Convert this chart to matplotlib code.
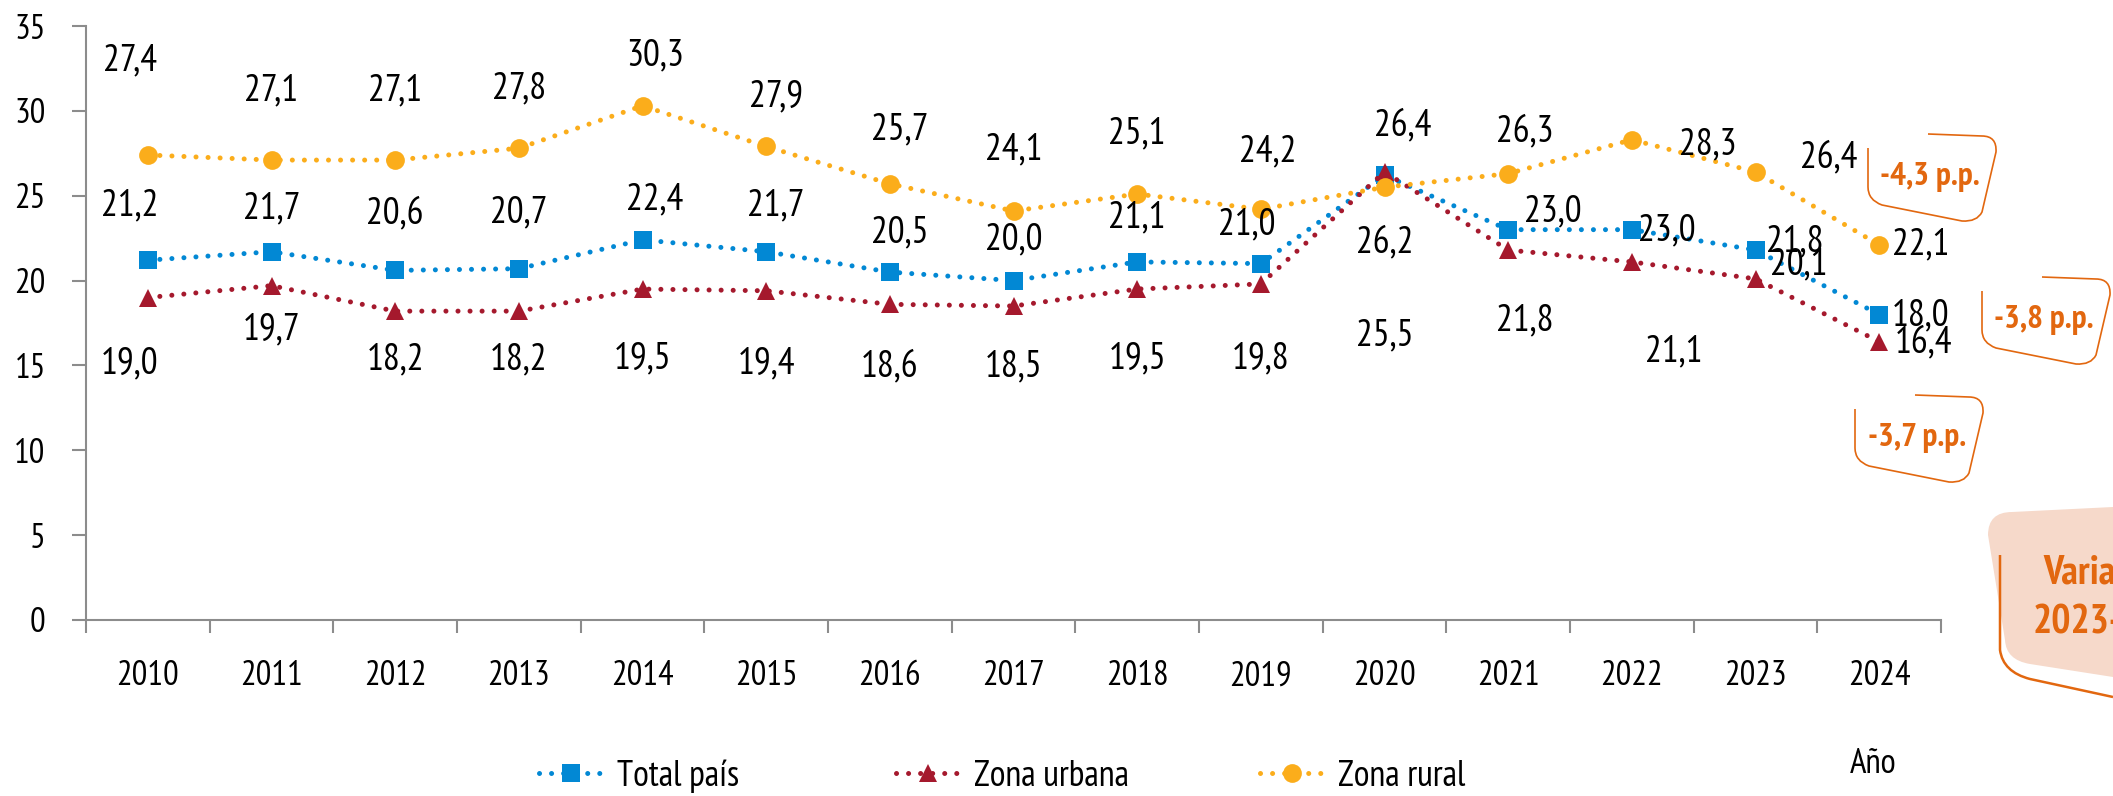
import matplotlib
matplotlib.use("Agg")
import matplotlib.pyplot as plt
from matplotlib.path import Path
from matplotlib.patches import PathPatch

plt.rcParams["font.family"] = ["PT Sans Narrow", "Fira Sans Condensed", "Archivo Narrow",
                               "Barlow Semi Condensed", "DejaVu Sans"]

# data
years = ["2010", "2011", "2012", "2013", "2014", "2015", "2016", "2017",
         "2018", "2019", "2020", "2021", "2022", "2023", "2024"]
total_pais = [21.2, 21.7, 20.6, 20.7, 22.4, 21.7, 20.5, 20.0, 21.1, 21.0, 26.2, 23.0, 23.0, 21.8, 18.0]
zona_urbana = [19.0, 19.7, 18.2, 18.2, 19.5, 19.4, 18.6, 18.5, 19.5, 19.8, 26.4, 21.8, 21.1, 20.1, 16.4]
zona_rural = [27.4, 27.1, 27.1, 27.8, 30.3, 27.9, 25.7, 24.1, 25.1, 24.2, 25.5, 26.3, 28.3, 26.4, 22.1]
variaciones = ["-4,3 p.p.", "-3,8 p.p.", "-3,7 p.p."]

# label offsets (points) per point, placed by hand like in the original
off_total = [(-13, 39), (0, 31), (0, 41), (0, 40), (9, 29), (7, 33), (7, 28), (0, 29),
             (0, 32), (-10, 28), (0, -49), (32, 13), (25, -1), (28, 6), (30, -1)]
off_urbana = [(-13, -48), (0, -32), (0, -35), (0, -35), (0, -50), (0, -53), (0, -45), (0, -44),
              (0, -50), (0, -54), (13, 33), (12, -51), (30, -65), (31, 10), (32, -1)]
off_rural = [(-13, 68), (0, 50), (0, 50), (0, 43), (9, 36), (7, 36), (7, 39), (0, 44),
             (0, 43), (5, 41), (0, -107), (12, 30), (55, -4), (53, 10), (30, 0)]

BLUE = "#0288D4"
RED = "#A5192D"
YELLOW = "#FBAD1B"
ORANGE = "#E2670F"
GREY = "#8C8C8C"

W, H = 2113, 796
fig = plt.figure(figsize=(W / 100, H / 100), dpi=100)
ax = fig.add_axes([86 / W, 1 - 620 / H, (1941 - 86) / W, (620 - 26) / H])

x = list(range(len(years)))
series = [
    (total_pais, BLUE, "s", "Total país", off_total),
    (zona_urbana, RED, "^", "Zona urbana", off_urbana),
    (zona_rural, YELLOW, "o", "Zona rural", off_rural),
]
handles = []
for vals, col, mk, lab, offs in series:
    h, = ax.plot(x, vals, color=col, linewidth=3.6, linestyle=(0, (0.01, 2.4)),
                 dash_capstyle="round", marker=mk, markersize=13.5, markeredgewidth=0,
                 label=lab, clip_on=False)
    handles.append(h)
    for xi, v, (dx, dy) in zip(x, vals, offs):
        ax.annotate(f"{v:.1f}".replace(".", ","), (xi, v), xytext=(dx, dy),
                    textcoords="offset points", ha="center", va="center",
                    fontsize=27, color="black")

ax.set_xlim(-0.5, len(years) - 0.5)
ax.set_ylim(0, 35)
ax.set_yticks(range(0, 36, 5))
ax.set_xticks([i - 0.5 for i in range(len(years) + 1)])
ax.set_xticklabels([])
ax.set_xticks(x, minor=True)
ax.set_xticklabels(years, minor=True)
ax.tick_params(axis="x", which="major", length=9.5, width=1.5, color=GREY, direction="out")
ax.tick_params(axis="x", which="minor", length=0, pad=29, labelsize=25)
ax.tick_params(axis="y", length=10, width=1.5, color=GREY, pad=19, labelsize=25)
for s in ["top", "right"]:
    ax.spines[s].set_visible(False)
for s in ["left", "bottom"]:
    ax.spines[s].set_color(GREY)
    ax.spines[s].set_linewidth(1.5)

# one legend entry per column, evenly spaced like the original
for h, x_px in zip(handles, [539, 896, 1260]):
    fig.legend(handles=[h], loc="center left", bbox_to_anchor=(x_px / W, 1 - 776 / H),
               frameon=False, fontsize=26, handlelength=1.75, handletextpad=0.4,
               borderpad=0, borderaxespad=0)
fig.text(1873 / W, 1 - 764 / H, "Año", fontsize=25, ha="center", va="center")


def px(pts):
    return [(a / W, 1 - b / H) for a, b in pts]


def callout(L, T, text):
    w, h = 129, 88
    verts = [(L + 60, T), (L + w - 15, T + 2), (L + w, T + 2), (L + w - 1, T + 18),
             (L + w - 15, T + h - 10), (L + w - 20, T + h), (L + w - 35, T + h - 1),
             (L + 14, T + h - 17), (L, T + h - 22), (L, T + h - 35), (L, T + 14)]
    codes = [Path.MOVETO, Path.LINETO, Path.CURVE3, Path.CURVE3, Path.LINETO,
             Path.CURVE3, Path.CURVE3, Path.LINETO, Path.CURVE3, Path.CURVE3, Path.LINETO]
    fig.add_artist(PathPatch(Path(px(verts), codes), fill=False, edgecolor=ORANGE,
                             lw=1.2, transform=fig.transFigure))
    fig.text((L + 62) / W, 1 - (T + 43) / H, text, fontsize=24, fontweight="bold",
             color=ORANGE, ha="center", va="center")


callout(1868, 134, variaciones[0])
callout(1982, 277, variaciones[1])
callout(1855, 395, variaciones[2])

# big "Variación 2023-2024" tab, cut at the right edge
fill = [(1988, 535), (1988, 512), (2012, 512), (2113, 507), (2113, 677), (2030, 664),
        (2006, 660), (2005, 640), (1988, 535)]
fcodes = [Path.MOVETO, Path.CURVE3, Path.CURVE3, Path.LINETO, Path.LINETO, Path.LINETO,
          Path.CURVE3, Path.CURVE3, Path.LINETO]
fig.add_artist(PathPatch(Path(px(fill), fcodes), facecolor="#F6D9CA", edgecolor="none",
                         transform=fig.transFigure))
line = [(2000, 555), (2000, 650), (2003, 672), (2030, 679), (2113, 697)]
lcodes = [Path.MOVETO, Path.LINETO, Path.CURVE3, Path.CURVE3, Path.LINETO]
fig.add_artist(PathPatch(Path(px(line), lcodes), fill=False, edgecolor=ORANGE, lw=1.8,
                         transform=fig.transFigure))
fig.text(2043 / W, 1 - 573 / H, "Variación", fontsize=29, fontweight="bold", color=ORANGE,
         ha="left", va="center")
fig.text(2033 / W, 1 - 623 / H, "2023-2024", fontsize=29, fontweight="bold", color=ORANGE,
         ha="left", va="center")

fig.savefig("out.png", dpi=100)
